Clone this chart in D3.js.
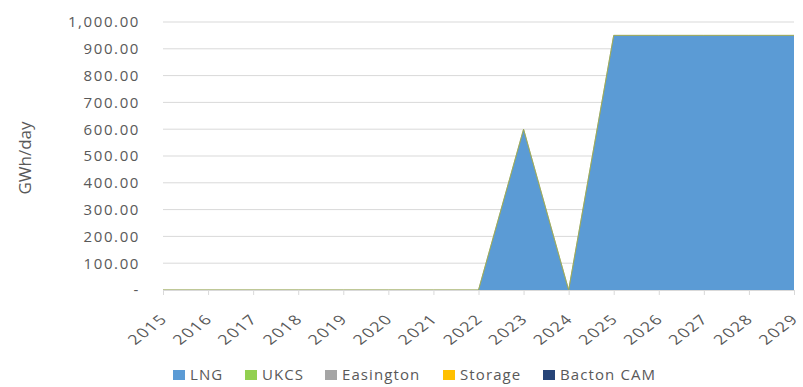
<!DOCTYPE html>
<html>
<head>
<meta charset="utf-8">
<script src="https://cdn.jsdelivr.net/npm/d3@7/dist/d3.min.js"></script>
<style>
	body { margin: 0; background: #fff; }
	text { font-family: "Open Sans", sans-serif; fill: #595959; }
</style>
</head>
<body>
<svg id="chart" width="803" height="387"></svg>
<script>
// データ
const years = [2015, 2016, 2017, 2018, 2019, 2020, 2021, 2022, 2023, 2024, 2025, 2026, 2027, 2028, 2029];
const lng = [0, 0, 0, 0, 0, 0, 0, 0, 600, 0, 950, 950, 950, 950, 950];
const ukcs = [0, 0, 0, 0, 0, 0, 0, 0, 0, 0, 0, 0, 0, 0, 0];
const easington = [0, 0, 0, 0, 0, 0, 0, 0, 0, 0, 0, 0, 0, 0, 0];
const storage = [0, 0, 0, 0, 0, 0, 0, 0, 0, 0, 0, 0, 0, 0, 0];
const bactonCam = [0, 0, 0, 0, 0, 0, 0, 0, 0, 0, 0, 0, 0, 0, 0];
const yTicks = [0, 100, 200, 300, 400, 500, 600, 700, 800, 900, 1000];

const seriesNames = ['LNG', 'UKCS', 'Easington', 'Storage', 'Bacton CAM'];
const seriesValues = [lng, ukcs, easington, storage, bactonCam];
const colors = ['#5b9bd5', '#92d050', '#a5a5a5', '#ffc000', '#264478'];

const svg = d3.select('#chart');
const margin = {top: 22, left: 163, right: 9, bottom: 97};
const width = 803 - margin.left - margin.right;
const height = 387 - margin.top - margin.bottom;

const x = d3.scaleLinear().domain([years[0], years[years.length - 1]]).range([0, width]);
const y = d3.scaleLinear().domain([0, 1000]).range([height, 0]);

const g = svg.append('g').attr('transform', `translate(${margin.left},${margin.top})`);

// グリッド線
g.selectAll('.grid')
	.data(yTicks.slice(1))
	.enter().append('line')
	.attr('x1', 0).attr('x2', width)
	.attr('y1', d => y(d)).attr('y2', d => y(d))
	.attr('stroke', '#d9d9d9').attr('stroke-width', 1);

// 積み上げ
const rows = years.map((yr, i) => {
	const r = {year: yr};
	seriesNames.forEach((n, k) => { r[n] = seriesValues[k][i]; });
	return r;
});
const stacked = d3.stack().keys(seriesNames)(rows);

const area = d3.area()
	.x(d => x(d.data.year))
	.y0(d => y(d[0]))
	.y1(d => y(d[1]));

g.selectAll('.area')
	.data(stacked)
	.enter().append('path')
	.attr('d', area)
	.attr('fill', (d, i) => colors[i])
	.attr('stroke', (d, i) => i === 1 ? '#9aa85a' : 'none')
	.attr('stroke-width', 0.8);

// Y軸
const yAxis = g.append('g')
	.call(d3.axisLeft(y).tickValues(yTicks).tickSize(0).tickPadding(23)
		.tickFormat(d => d === 0 ? '-' : d3.format(',.2f')(d)));
yAxis.select('.domain').remove();
yAxis.selectAll('text')
	.style('font-size', '15px')
	.style('letter-spacing', '1.6px')
	.attr('fill', '#595959');

// X軸（元画像は横に引き伸ばされているので少し縦を詰める）
const xAxis = g.append('g')
	.attr('transform', `translate(0,${height})`)
	.call(d3.axisBottom(x).tickValues(years).tickFormat(d3.format('d')).tickSize(5));
xAxis.select('.domain').attr('stroke', '#d9d9d9');
xAxis.selectAll('.tick line').attr('stroke', '#d9d9d9');
xAxis.selectAll('text')
	.style('font-size', '17px')
	.style('letter-spacing', '1.5px')
	.attr('fill', '#595959')
	.style('text-anchor', 'end')
	.attr('x', 0).attr('y', 0).attr('dy', 0)
	.attr('transform', 'translate(5,30) scale(1.05,0.8) rotate(-45)');

// Y軸ラベル
svg.append('text')
	.attr('transform', 'translate(31,158) rotate(-90)')
	.attr('text-anchor', 'middle')
	.style('font-size', '17px')
	.text('GWh/day');

// 凡例
const legendX = [173, 245, 325, 443, 543];
const legend = svg.append('g').attr('transform', 'translate(0,375)');
seriesNames.forEach((n, i) => {
	const item = legend.append('g').attr('transform', `translate(${legendX[i]},0)`);
	item.append('rect').attr('x', 0).attr('y', -5).attr('width', 12).attr('height', 10).attr('fill', colors[i]);
	item.append('text').attr('x', 17).attr('dy', '0.35em')
		.style('font-size', '15px').style('letter-spacing', '1.1px').text(n);
});
</script>
</body>
</html>
